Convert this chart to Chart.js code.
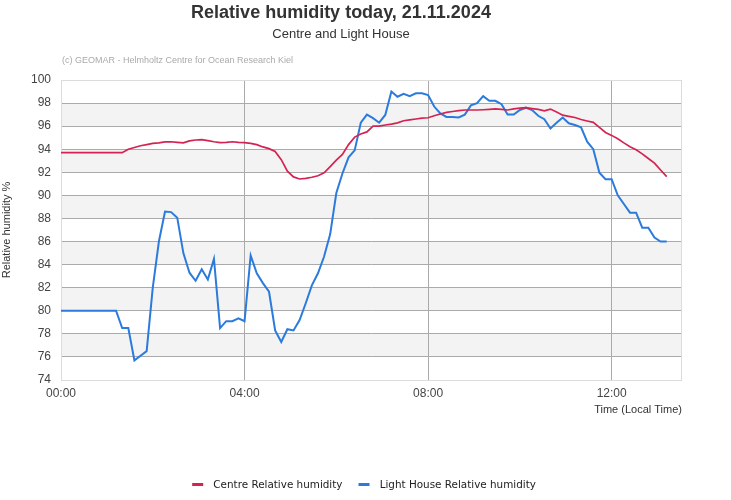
<!DOCTYPE html>
<html>
<head>
<meta charset="utf-8">
<style>
html,body{margin:0;padding:0;background:#fff;}
#wrap{width:731px;height:500px;position:relative;}
</style>
<script src="https://cdn.jsdelivr.net/npm/chart.js@4/dist/chart.umd.min.js"></script>
</head>
<body>
<div id="wrap"><canvas id="c" width="731" height="500"></canvas></div>
<script>
// ---------- data ----------
const titleText = 'Relative humidity today, 21.11.2024';
const subtitleText = 'Centre and Light House';
const creditText = '(c) GEOMAR - Helmholtz Centre for Ocean Research Kiel';
const seriesNames = ['Centre Relative humidity', 'Light House Relative humidity'];
const yAxisTitle = 'Relative humidity %';
const xAxisTitle = 'Time (Local Time)';

// one reading every 8 minutes from 00:00
const sampleStepMinutes = 8;

const centreHumidity = [
  93.7, 93.7, 93.7, 93.7, 93.7, 93.7, 93.7, 93.7, 93.7, 93.7,
  93.7, 94.0, 94.15, 94.3, 94.4, 94.5, 94.55, 94.63, 94.65, 94.6,
  94.55, 94.72, 94.8, 94.84, 94.75, 94.65, 94.58, 94.6, 94.65, 94.6,
  94.57, 94.5, 94.4, 94.2, 94.05, 93.8, 93.1, 92.1, 91.6, 91.42,
  91.48, 91.57, 91.7, 91.95, 92.5, 93.05, 93.55, 94.4, 95.05, 95.32,
  95.5, 96.0, 96.0, 96.1, 96.18, 96.28, 96.47, 96.55, 96.62, 96.7,
  96.73, 96.9, 97.05, 97.2, 97.27, 97.35, 97.4, 97.4, 97.4, 97.42,
  97.45, 97.49, 97.45, 97.4, 97.5, 97.57, 97.6, 97.52, 97.45, 97.32,
  97.48, 97.22, 96.95, 96.85, 96.75, 96.58, 96.45, 96.33, 95.9, 95.45,
  95.2, 94.9, 94.55, 94.22, 93.95, 93.6, 93.2, 92.8, 92.2, 91.62
];

const lightHouseHumidity = [
  80.0, 80.0, 80.0, 80.0, 80.0, 80.0, 80.0, 80.0, 80.0, 80.0,
  78.5, 78.5, 75.7, 76.1, 76.5, 82.0, 86.0, 88.6, 88.55, 88.07,
  85.0, 83.3, 82.6, 83.6, 82.7, 84.5, 78.5, 79.1, 79.1, 79.35,
  79.1, 84.8, 83.25, 82.4, 81.65, 78.3, 77.3, 78.4, 78.3, 79.2,
  80.65, 82.2, 83.25, 84.7, 86.65, 90.2, 91.9, 93.3, 93.9, 96.3,
  97.0, 96.7, 96.3, 96.97, 99.0, 98.55, 98.8, 98.6, 98.85, 98.85,
  98.7, 97.7, 97.1, 96.8, 96.8, 96.75, 97.0, 97.8, 98.0, 98.6,
  98.2, 98.2, 97.9, 97.0, 97.0, 97.4, 97.6, 97.4, 96.9, 96.6,
  95.8, 96.3, 96.75, 96.25, 96.1, 95.9, 94.65, 94.0, 91.97, 91.4,
  91.4, 90.0, 89.25, 88.5, 88.5, 87.2, 87.2, 86.35, 86.0, 86.0
];

const yMin = 74, yMax = 100, yStep = 2;
const xTickMinutes = [0, 240, 480, 720];
const xMaxMinutes = 812;

// ---------- build ----------
const sampleMinutes = centreHumidity.map((_, i) => i * sampleStepMinutes);
const toPoints = vals => vals.map((v, i) => ({x: sampleMinutes[i], y: v}));

const colCentre = '#d42352';
const colLight = '#2b7bdc';
const FONT = "'Liberation Sans', Arial, sans-serif";
Chart.defaults.font.family = FONT;

function fmtTime(m) {
  const h = Math.floor(m / 60), mm = Math.round(m % 60);
  return String(h).padStart(2, '0') + ':' + String(mm).padStart(2, '0');
}

function legendMarker(color) {
  const c = document.createElement('canvas');
  c.width = 22; c.height = 3;
  const g = c.getContext('2d');
  g.fillStyle = color;
  g.fillRect(6, 0, 11, 3);
  return c;
}
const markers = [legendMarker(colCentre), legendMarker(colLight)];

const bandsPlugin = {
  id: 'bands',
  beforeDraw(chart) {
    const {ctx, chartArea: a, scales: {y}} = chart;
    ctx.save();
    ctx.fillStyle = '#ffffff';
    ctx.fillRect(0, 0, chart.width, chart.height);
    ctx.fillStyle = '#f3f3f3';
    for (let v = yMin + 2; v < yMax - 2; v += 4) {
      const top = y.getPixelForValue(v + 2), bot = y.getPixelForValue(v);
      ctx.fillRect(a.left, top, a.right - a.left, bot - top);
    }
    ctx.restore();
  },
  beforeDatasetsDraw(chart) {
    const {ctx, chartArea: a} = chart;
    ctx.save();
    ctx.strokeStyle = '#dcdcdc';
    ctx.lineWidth = 1;
    ctx.strokeRect(Math.round(a.left) + 0.5, Math.round(a.top) + 0.5,
                   Math.round(a.right - a.left) - 1, Math.round(a.bottom - a.top));
    ctx.restore();
  },
  afterLayout(chart) {
    if (chart.legend) { chart.legend.left = 0; chart.legend.right = 722; }
  },
  afterDraw(chart) {
    const {ctx} = chart;
    ctx.save();
    ctx.font = "9px " + FONT;
    ctx.fillStyle = '#aaaaaa';
    ctx.textBaseline = 'middle';
    ctx.textAlign = 'left';
    ctx.fillText(creditText, 62, 61);
    ctx.restore();
  }
};

new Chart(document.getElementById('c'), {
  type: 'line',
  data: {
    datasets: [
      {label: seriesNames[0], data: toPoints(centreHumidity), borderColor: colCentre,
       backgroundColor: colCentre, borderWidth: 1.7, pointRadius: 0, tension: 0},
      {label: seriesNames[1], data: toPoints(lightHouseHumidity), borderColor: colLight,
       backgroundColor: colLight, borderWidth: 2, pointRadius: 0, tension: 0}
    ]
  },
  plugins: [bandsPlugin],
  options: {
    responsive: false,
    animation: false,
    devicePixelRatio: 1,
    layout: {padding: {left: 0, right: 49, top: 0, bottom: 0}},
    scales: {
      x: {
        type: 'linear',
        min: 0, max: xMaxMinutes,
        afterBuildTicks: s => { s.ticks = xTickMinutes.map(v => ({value: v})); },
        afterFit: s => { s.height = 89.6; },
        ticks: {stepSize: 240, padding: 6, color: '#444', font: {size: 12},
                maxRotation: 0, autoSkip: false, callback: v => fmtTime(v)},
        grid: {drawTicks: false, color: c => (c.tick && c.tick.value === 0) ? 'rgba(0,0,0,0)' : '#aaaaaa', lineWidth: 1},
        border: {display: false},
        title: {display: true, text: xAxisTitle, align: 'end', color: '#333',
                font: {size: 11}, padding: {top: 0, bottom: 53}}
      },
      y: {
        min: yMin, max: yMax,
        afterFit: s => { s.width = 61; },
        ticks: {stepSize: yStep, padding: 10, color: '#444', font: {size: 12}},
        grid: {drawTicks: false, color: c => (c.tick && (c.tick.value === yMin || c.tick.value === yMax)) ? 'rgba(0,0,0,0)' : '#aaaaaa', lineWidth: 1},
        border: {display: false},
        title: {display: true, text: yAxisTitle, color: '#333', font: {size: 11}, padding: {top: 0, bottom: 0}}
      }
    },
    plugins: {
      title: {display: true, text: titleText, color: '#333',
              font: {size: 18, weight: 'bold'}, padding: {top: 2.2, bottom: 0}},
      subtitle: {display: true, text: subtitleText, color: '#333',
                 font: {size: 13}, padding: {top: 2.4, bottom: 38.2}},
      legend: {
        position: 'bottom',
        labels: {
          font: {family: "'DejaVu Sans', sans-serif", size: 10.4},
          color: '#222',
          padding: 10,
          usePointStyle: true,
          pointStyleWidth: 22,
          generateLabels: chart => Chart.defaults.plugins.legend.labels.generateLabels(chart)
            .map((it, i) => Object.assign(it, {pointStyle: markers[i], lineWidth: 0}))
        }
      },
      tooltip: {enabled: false}
    }
  }
});
</script>
</body>
</html>
